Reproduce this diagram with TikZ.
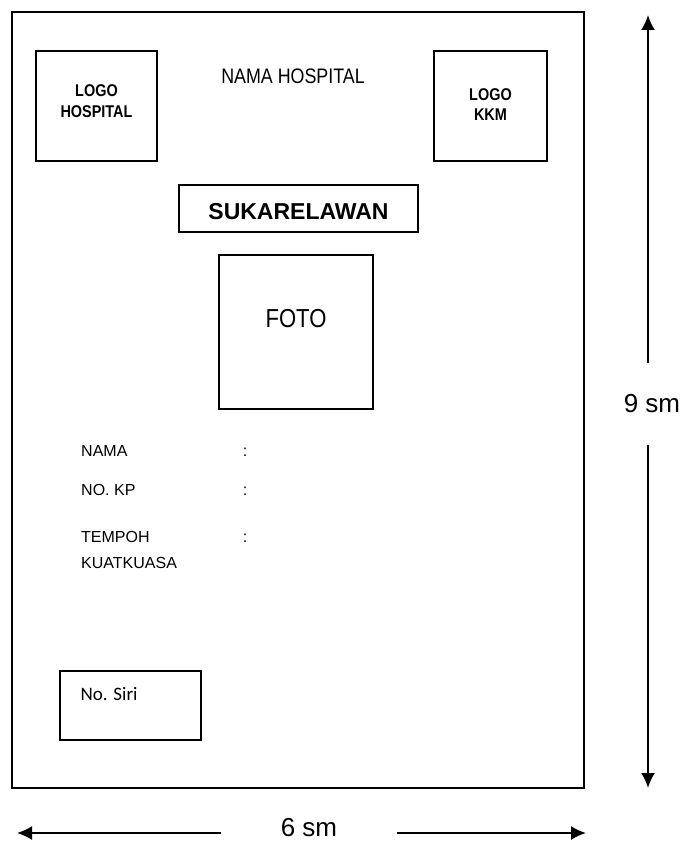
\documentclass[tikz,border=0pt]{standalone}
\usepackage{fontspec}
\setmainfont{Liberation Sans}
\newfontfamily\calibri{Carlito}
\usetikzlibrary{arrows.meta}
\usetikzlibrary{positioning}
\newcommand\cond[1]{\scalebox{0.85}[1]{#1}}
\tikzset{%
    card/.style={line width=1.7pt},
    field/.style={anchor=base west,inner sep=0pt,font={\fontsize{16}{20}\selectfont}},
    colon/.style={anchor=base,inner sep=0pt,font={\fontsize{16}{20}\selectfont}},
    logo/.style={inner sep=0pt,align=center,font={\bfseries\fontsize{17}{20.5}\selectfont}},
    title/.style={anchor=base,inner sep=0pt},
    dimline/.style={line width=2pt,-{Latex[length=15pt,width=14pt]}},
    dimlabel/.style={inner sep=0pt,font={\fontsize{26}{30}\selectfont}},
}
\begin{document}
\begin{tikzpicture}[x=1pt,y=-1pt]
\useasboundingbox (0,0) rectangle (686,843);
% card and its boxes
\draw [card] (12,12) rectangle (584,788);
\draw [card] (36,51) rectangle (157,161);
\draw [card] (434,51) rectangle (547,161);
\draw [card] (179,185) rectangle (418,232);
\draw [card] (219,255) rectangle (373,409);
\draw [card] (60,671) rectangle (201,740);
% texts
\node (namahosp) [title,font={\fontsize{21}{24}\selectfont}] at (293,83) {\cond{NAMA HOSPITAL}};
\node (logohosp) [logo] at (96.5,101) {\cond{LOGO}\\\cond{HOSPITAL}};
\node (logokkm) [logo] at (490.5,104.5) {\cond{LOGO}\\\cond{KKM}};
\node (sukarela) [title,font={\bfseries\fontsize{23}{26}\selectfont}] at (298.5,219) {SUKARELAWAN};
\node (foto) [title,font={\fontsize{26}{30}\selectfont}] at (296,327) {\cond{FOTO}};
\node (nama) [field] at (81,456.7) {NAMA};
\node (nokp) [field] at (81,495) {NO. KP};
\node (tempoh) [field] at (81,542) {TEMPOH};
\node (kuatkuasa) [field] at (81,568.5) {KUATKUASA};
\foreach \Y/\N in {456.7/a,495/b,542/c}
  \node (colon\N) [colon] at (245,\Y) {:};
\node (siri) [anchor=base west,inner sep=0pt,font={\calibri\fontsize{19}{22}\selectfont}] at (80.5,700.7) {No. Siri};
% dimensions
\coordinate (vtop) at (648,15);
\coordinate (vbot) at (648,788);
\node (nine) [dimlabel,minimum height=82pt] at (652,404) {9 sm};
\draw [dimline] (nine.north -| vtop) -- (vtop);
\draw [dimline] (nine.south -| vbot) -- (vbot);
\coordinate (hleft) at (17,833);
\coordinate (hright) at (586,833);
\node (six) [dimlabel,minimum width=176pt] at (309,828) {6 sm};
\draw [dimline] (six.west |- hleft) -- (hleft);
\draw [dimline] (six.east |- hright) -- (hright);
\end{tikzpicture}
\end{document}
